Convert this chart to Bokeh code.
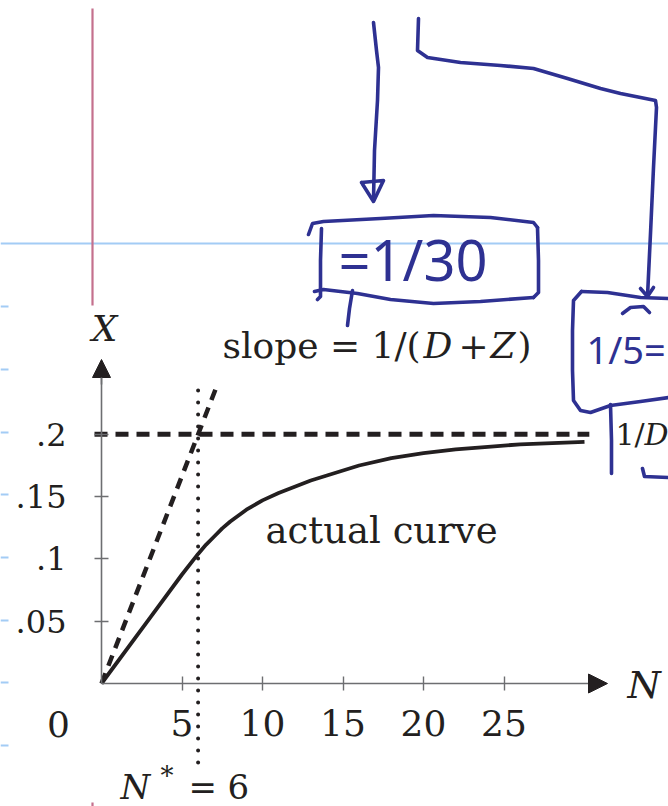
from bokeh.plotting import figure
from bokeh.models import (Range1d, LinearAxis, FixedTicker, CustomJSTickFormatter,
                          Arrow, NormalHead)
from bokeh.core.properties import value
from bokeh.embed import file_html
from bokeh.resources import INLINE

# ---------------- chart data ----------------
x_ticks = [5, 10, 15, 20, 25]
x_tick_labels = ["5", "10", "15", "20", "25"]
y_ticks = [0.05, 0.1, 0.15, 0.2]
y_tick_labels = [".05", ".1", ".15", ".2"]

n_star = 6                 # N* = 6
x_limit = 0.2              # 1/D
slope = 1 / 30             # 1/(D+Z)

# actual throughput curve X(N)
curve_n = [0, 3, 5, 6, 6.5, 7, 7.5, 8, 9, 10, 11, 12, 13, 14, 16, 18, 20, 22, 24, 26, 28, 30]
curve_x = [0, 0.0525, 0.0875, 0.104, 0.1115, 0.118, 0.1245, 0.130, 0.1395, 0.147, 0.153,
           0.158, 0.163, 0.167, 0.175, 0.181, 0.185, 0.188, 0.190, 0.192, 0.193, 0.194]

# ---------------- page geometry ----------------
W, H = 668, 806
OX, OY = 101, 683          # page position of the origin
SX, SY = 16.1, 1245.7      # pixels per unit of N and of X


def to_data(px, py):
    return (px - OX) / SX, (OY - py) / SY


def pts(path):
    xs, ys = zip(*[to_data(a, b) for a, b in path])
    return list(xs), list(ys)


INK = "#231f20"
AXIS = "#6d6e71"
PEN = "#2e3192"
RULE_BLUE = "#a3ccf5"
MARGIN_PINK = "#c4708d"
SERIF = "DejaVu Serif"

p = figure(width=W, height=H, x_range=Range1d(to_data(0, 0)[0], to_data(W, 0)[0]),
           y_range=Range1d(to_data(0, H)[1], to_data(0, 0)[1]),
           output_backend="svg", toolbar_location=None,
           x_axis_type=None, y_axis_type=None, min_border=0)
p.outline_line_color = None
p.background_fill_color = "white"
p.border_fill_color = "white"

# ---------------- notebook page ----------------
page_rules = [[(0, 243), (W, 243)]] + [[(0, y), (8, y)] for y in (306, 369, 432, 494, 557, 620, 682, 745)]
xs, ys = zip(*[pts(r) for r in page_rules])
p.multi_line(list(xs), list(ys), line_color=RULE_BLUE, line_width=2)
margin = [[(92, 8), (92, 305)], [(92, 802), (92, 806)]]
xs, ys = zip(*[pts(r) for r in margin])
p.multi_line(list(xs), list(ys), line_color=MARGIN_PINK, line_width=2.2)

# ---------------- axes ----------------
axis_style = dict(axis_line_color=AXIS, axis_line_width=1.6,
                  major_tick_line_color=AXIS, major_tick_line_width=1.4,
                  major_tick_in=7, major_tick_out=7, minor_tick_line_color=None,
                  major_label_text_font=SERIF, major_label_text_color=INK)
fmt_code = "return tick_labels[tick_values.indexOf(tick)]"
xaxis = LinearAxis(fixed_location=0, bounds=(0, 30.6), ticker=FixedTicker(ticks=x_ticks),
                   formatter=CustomJSTickFormatter(args=dict(tick_values=x_ticks, tick_labels=x_tick_labels), code=fmt_code),
                   major_label_text_font_size="36px", major_label_standoff=19, **axis_style)
yaxis = LinearAxis(fixed_location=0, bounds=(0, 0.2473), ticker=FixedTicker(ticks=y_ticks),
                   formatter=CustomJSTickFormatter(args=dict(tick_values=y_ticks, tick_labels=y_tick_labels), code=fmt_code),
                   major_label_text_font_size="32px", major_label_standoff=28, **axis_style)
p.add_layout(xaxis, "below")
p.add_layout(yaxis, "left")

p.add_layout(Arrow(end=NormalHead(size=19, fill_color=INK, line_color=INK),
                   x_start=30.3, y_start=0, x_end=to_data(607, 0)[0], y_end=0,
                   line_color=AXIS, line_width=1.6))
p.add_layout(Arrow(end=NormalHead(size=18, fill_color=INK, line_color=INK),
                   x_start=0, y_start=0.24, x_end=0, y_end=to_data(0, 359)[1],
                   line_color=AXIS, line_width=1.6))

# ---------------- bounds and curve ----------------
p.line([to_data(94, 0)[0], 30.3], [x_limit, x_limit], line_color=INK, line_width=5, line_dash="13 8")
slope_n = [0, 7.25]
p.line(slope_n, [n * slope for n in slope_n], line_color=INK, line_width=4.5, line_dash="11 8")
p.line([n_star, n_star], [to_data(0, 762)[1], to_data(0, 378)[1]], line_color=INK,
       line_width=4, line_dash="0 12", line_cap="round")
p.line(curve_n, curve_x, line_color=INK, line_width=3.8, line_join="round")

# ---------------- book labels (positions are glyph centres on the page) ----------------
def put(items, size, style="normal", color=INK, font=SERIF, align="left"):
    xs, ys, texts = [], [], []
    for t, px, py in items:
        x, y = to_data(px, py)
        xs.append(x); ys.append(y); texts.append(t)
    p.text(xs, ys, text=texts, text_font=value(font), text_font_size=size,
           text_font_style=style, text_color=color, text_align=align,
           text_baseline="middle")

put([("0", 58, 723)], "36px", align="center")
put([("X", 104, 328)], "36px", style="italic", align="center")
put([("N", 627, 684)], "38px", style="italic")
put([("slope = 1/(", 222, 345), ("+", 458, 345), (")", 517, 345)], "36px")
put([("D", 423, 345), ("Z", 490, 345)], "36px", style="italic")
put([("actual curve", 265, 530)], "37px")
put([("N", 120, 786)], "34px", style="italic")
put([("*", 160, 775)], "26px")
put([("=", 188, 786), ("6", 227, 786)], "34px")
put([("1/", 615, 434)], "30px")
put([("D", 644, 434)], "30px", style="italic")

# ---------------- pen annotations ----------------
pen_strokes = [
    [(373, 22), (376, 50), (378, 67), (377, 100), (374, 150), (373, 200)],
    [(361, 182), (383, 180), (373, 201), (361, 182)],
    [(418, 18), (417, 50), (427, 57), (460, 62), (500, 65), (533, 68), (567, 78),
     (600, 88), (620, 93), (655, 100), (656, 107), (653, 167), (650, 233), (647, 296)],
    [(640, 288), (647, 296), (653, 287)],
    [(308, 234), (312, 223), (323, 221), (380, 218), (433, 215), (490, 217), (533, 222), (537, 227)],
    [(537, 227), (538, 260), (538, 292), (533, 297)],
    [(533, 297), (480, 301), (433, 303), (390, 299), (357, 293), (323, 289), (314, 291)],
    [(321, 228), (320, 260), (320, 296), (317, 299)],
    [(352, 290), (349, 308), (347, 325)],
    [(581, 291), (607, 292), (640, 297), (668, 298)],
    [(581, 291), (573, 300), (572, 330), (572, 370), (573, 400), (580, 410), (590, 412),
     (610, 405), (640, 401), (668, 397)],
    [(610, 404), (611, 440), (611, 473)],
    [(642, 468), (644, 476), (668, 477)],
    [(622, 313), (630, 307), (643, 306), (649, 312)],
]
xs, ys = zip(*[pts(s) for s in pen_strokes])
p.multi_line(list(xs), list(ys), line_color=PEN, line_width=3.6, line_cap="round", line_join="round")

put([("=1/30", 338, 258)], "56px", color=PEN, font="Noto Sans")
put([("1/5=", 586, 348)], "38px", color=PEN, font="Noto Sans")

open("out.html", "w").write(file_html(p, INLINE))
